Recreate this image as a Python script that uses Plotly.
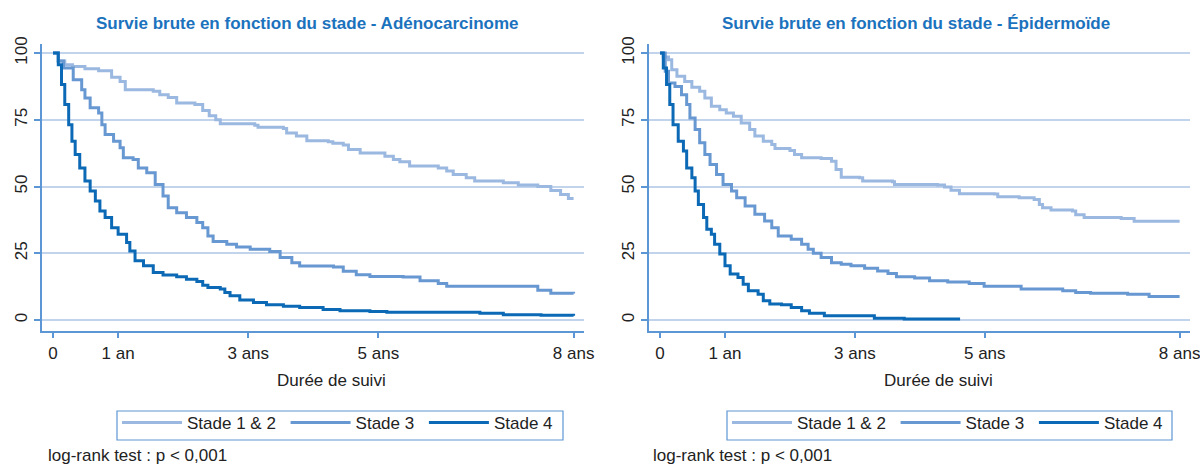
import plotly.graph_objects as go

# ---------------- Data ----------------
adeno_s12_t = [0, 0.08, 0.18, 0.30, 0.49, 0.70, 0.90, 1.03, 1.11, 1.54, 1.64, 1.77, 1.90, 2.18, 2.30, 2.40, 2.50, 2.57,
               3.10, 3.15, 3.54, 3.59, 3.74, 3.90, 4.23, 4.30, 4.46, 4.54, 4.72, 5.10, 5.23, 5.33, 5.48, 5.92, 6.05,
               6.15, 6.35, 6.48, 6.92, 7.15, 7.45, 7.65, 7.80, 7.92, 8.0]
adeno_s12_s = [100, 97.0, 95.6, 95.0, 94.1, 93.4, 91.0, 89.4, 86.3, 85.7, 84.4, 83.4, 81.3, 80.7, 78.5, 76.5, 75.0, 73.5,
               73.0, 72.2, 71.8, 70.1, 68.9, 67.2, 66.8, 66.2, 65.6, 63.9, 62.6, 61.4, 60.1, 59.3, 57.7, 57.0, 55.8,
               54.5, 53.3, 52.1, 51.4, 50.6, 50.0, 48.5, 47.0, 45.5, 45.5]

adeno_s3_t = [0, 0.08, 0.16, 0.31, 0.44, 0.49, 0.57, 0.70, 0.75, 0.80, 0.93, 1.03, 1.08, 1.23, 1.31, 1.44, 1.57, 1.69,
              1.77, 1.90, 2.05, 2.21, 2.30, 2.38, 2.46, 2.67, 2.82, 3.03, 3.33, 3.49, 3.67, 3.79, 4.31, 4.46, 4.66,
              4.87, 5.38, 5.64, 5.92, 6.05, 7.45, 7.65, 8.0]
adeno_s3_s = [100, 97.0, 94.4, 90.0, 86.3, 83.2, 79.5, 77.6, 73.2, 69.5, 67.0, 64.5, 60.8, 60.1, 57.0, 55.2, 50.8, 46.5,
              42.1, 40.2, 38.4, 36.5, 34.6, 31.5, 29.4, 28.4, 27.4, 26.5, 25.7, 23.4, 21.5, 20.2, 19.9, 18.3, 17.0,
              16.3, 16.1, 14.7, 13.7, 12.7, 11.2, 10.0, 9.9]

adeno_s4_t = [0, 0.08, 0.13, 0.18, 0.24, 0.29, 0.34, 0.41, 0.49, 0.57, 0.65, 0.72, 0.80, 0.90, 1.00, 1.13, 1.18, 1.26,
              1.39, 1.54, 1.69, 1.90, 2.05, 2.21, 2.30, 2.38, 2.57, 2.64, 2.72, 2.87, 3.08, 3.28, 3.54, 3.79, 4.15,
              4.41, 4.87, 5.13, 6.56, 6.92, 7.50, 8.0]
adeno_s4_s = [100, 95.6, 88.2, 80.7, 73.2, 67.0, 62.0, 57.0, 52.1, 48.3, 44.6, 40.8, 38.4, 34.6, 32.1, 29.0, 25.9, 22.2,
              20.3, 17.8, 16.9, 16.2, 15.3, 14.4, 13.0, 12.2, 11.6, 10.3, 9.1, 7.5, 6.6, 5.7, 5.2, 4.7, 3.9,
              3.5, 3.2, 2.9, 2.5, 2.0, 1.8, 1.6]

epid_s12_t = [0, 0.05, 0.13, 0.18, 0.26, 0.38, 0.49, 0.61, 0.69, 0.79, 0.92, 1.02, 1.13, 1.25, 1.38, 1.46, 1.59, 1.72,
              1.77, 2.00, 2.07, 2.18, 2.48, 2.64, 2.71, 2.79, 3.07, 3.12, 3.58, 3.61, 4.27, 4.38, 4.48, 4.61, 5.15,
              5.20, 5.53, 5.76, 5.84, 5.89, 6.02, 6.35, 6.40, 6.53, 7.10, 7.30, 8.0]
epid_s12_s = [100, 98.5, 97.5, 93.8, 91.3, 89.4, 87.2, 85.7, 83.2, 80.1, 78.8, 77.6, 76.3, 73.8, 71.4, 68.9, 67.0, 65.8,
              64.3, 63.5, 62.0, 60.8, 60.5, 59.5, 56.4, 53.5, 53.3, 52.1, 51.8, 50.8, 50.6, 49.8, 48.6, 47.3, 47.2,
              46.2, 45.8, 45.2, 43.3, 42.1, 41.2, 40.8, 39.4, 38.4, 38.0, 37.0, 37.0]

epid_s3_t = [0, 0.08, 0.13, 0.23, 0.33, 0.41, 0.46, 0.54, 0.61, 0.69, 0.77, 0.87, 0.97, 1.10, 1.18, 1.31, 1.46, 1.61,
             1.72, 1.82, 2.02, 2.18, 2.28, 2.36, 2.48, 2.64, 2.79, 2.94, 3.15, 3.35, 3.51, 3.64, 3.92, 4.15, 4.43,
             4.76, 4.99, 5.56, 6.20, 6.40, 6.63, 7.20, 7.53, 8.0]
epid_s3_s = [100, 93.2, 88.8, 87.5, 84.4, 80.7, 75.7, 71.4, 66.4, 62.0, 58.3, 54.5, 50.8, 48.3, 45.8, 42.7, 39.6, 37.1,
             34.6, 31.5, 30.3, 28.4, 26.5, 25.0, 23.4, 21.5, 20.9, 20.3, 19.4, 18.4, 17.4, 16.2, 15.7, 14.7, 14.2,
             13.7, 12.7, 11.6, 11.0, 10.3, 10.0, 9.7, 8.8, 8.8]

epid_s4_t = [0, 0.05, 0.10, 0.15, 0.20, 0.28, 0.36, 0.41, 0.49, 0.54, 0.59, 0.67, 0.72, 0.79, 0.84, 0.92, 1.00, 1.08,
             1.20, 1.28, 1.36, 1.51, 1.59, 1.69, 1.87, 2.02, 2.18, 2.30, 2.53, 3.30, 3.76, 4.62]
epid_s4_s = [100, 94.4, 88.2, 80.7, 73.2, 67.0, 63.3, 57.0, 53.3, 48.3, 43.3, 38.4, 34.0, 32.1, 28.4, 24.7, 20.3, 17.2,
             15.9, 13.4, 11.0, 9.7, 7.2, 6.0, 5.7, 4.7, 3.5, 2.5, 1.6, 0.7, 0.4, 0.4]

series_names = ["Stade 1 & 2", "Stade 3", "Stade 4"]
x_tickvals = [0, 1, 3, 5, 8]
x_ticktext = ["0", "1 an", "3 ans", "5 ans", "8 ans"]
y_tickvals = [0, 25, 50, 75, 100]
titles = ["Survie brute en fonction du stade - Adénocarcinome",
          "Survie brute en fonction du stade - Épidermoïde"]
x_title = "Durée de suivi"
note = "log-rank test : p < 0,001"

# ---------------- Style ----------------
W, H = 1200, 464
colors = ["#9ab8e0", "#6898d1", "#0b69b6"]
grid_c = "#c2d4ec"
axis_c = "#5d96d4"
title_c = "#1b72bd"
text_c = "#222222"
FONT = "Liberation Sans, Arial, sans-serif"

def px(x):
    return x / W

def py(y):
    return 1 - y / H

fig = go.Figure()

panels = [
    ([adeno_s12_t, adeno_s3_t, adeno_s4_t], [adeno_s12_s, adeno_s3_s, adeno_s4_s], "x", "y", "legend"),
    ([epid_s12_t, epid_s3_t, epid_s4_t], [epid_s12_s, epid_s3_s, epid_s4_s], "x2", "y2", "legend2"),
]
for ts, ss, xa, ya, lg in panels:
    for i in range(3):
        fig.add_trace(go.Scatter(
            x=ts[i], y=ss[i], mode="lines", name=series_names[i] + "\u00a0",
            line=dict(color=colors[i], width=3, shape="hv"),
            xaxis=xa, yaxis=ya, legend=lg, hoverinfo="skip",
        ))

y_dom = [py(330.7), py(44.3)]
x_doms = [[px(42), px(584)], [px(649), px(1190)]]

common_x = dict(range=[-0.17, 8.16], tickvals=x_tickvals, ticktext=x_ticktext,
                showgrid=False, zeroline=False, showline=True, linecolor=axis_c, linewidth=1.5,
                ticks="outside", ticklen=6, tickcolor=axis_c, tickwidth=1.5, automargin=False,
                ticklabeloverflow="allow",
                tickfont=dict(size=17, color=text_c, family=FONT))
common_y = dict(range=[-4.0, 103.3], tickvals=y_tickvals,
                showgrid=True, gridcolor=grid_c, gridwidth=1.5, zeroline=False,
                showline=True, linecolor=axis_c, linewidth=1.5, automargin=False,
                ticklabeloverflow="allow",
                ticks="outside", ticklen=6, tickcolor=axis_c, tickwidth=1.5, tickangle=-90,
                tickfont=dict(size=17, color=text_c, family=FONT), domain=y_dom)

legend_common = dict(orientation="h", xanchor="left", yanchor="top",
                     borderwidth=0, bgcolor="rgba(0,0,0,0)",
                     font=dict(size=17, color=text_c, family=FONT), itemwidth=60)

fig.update_layout(
    width=W, height=H, autosize=False,
    margin=dict(l=0, r=0, t=0, b=0, pad=0, autoexpand=False),
    paper_bgcolor="white", plot_bgcolor="white",
    font=dict(family=FONT, color=text_c),
    xaxis=dict(common_x, domain=x_doms[0], anchor="y"),
    yaxis=dict(common_y, anchor="x"),
    xaxis2=dict(common_x, domain=x_doms[1], anchor="y2"),
    yaxis2=dict(common_y, anchor="x2"),
    legend=dict(legend_common, x=px(117), y=py(405)),
    legend2=dict(legend_common, x=px(727), y=py(405)),
    showlegend=True,
)

# legend frames
shapes = []
for x0, x1 in [(117, 563), (727, 1172)]:
    shapes.append(dict(type="rect", xref="paper", yref="paper",
                       x0=px(x0), x1=px(x1), y0=py(440), y1=py(411),
                       line=dict(color=axis_c, width=1.2), fillcolor="rgba(0,0,0,0)", layer="below"))
fig.update_layout(shapes=shapes)

ann = []
for cx, t in [(307.5, titles[0]), (915.5, titles[1])]:
    ann.append(dict(text="<b>%s</b>" % t, x=px(cx), y=py(24), xref="paper", yref="paper",
                    xanchor="center", yanchor="middle", showarrow=False,
                    font=dict(size=17, color=title_c, family=FONT)))
for cx in [331.5, 938.5]:
    ann.append(dict(text=x_title, x=px(cx), y=py(380), xref="paper", yref="paper",
                    xanchor="center", yanchor="middle", showarrow=False,
                    font=dict(size=17, color=text_c, family=FONT)))
for lx in [46, 651]:
    ann.append(dict(text=note, x=px(lx), y=py(455), xref="paper", yref="paper",
                    xanchor="left", yanchor="middle", showarrow=False,
                    font=dict(size=17, color=text_c, family=FONT)))
fig.update_layout(annotations=ann)

fig.write_html("out.html", config={"displayModeBar": False},
               post_script="document.body.style.margin='0px';document.body.style.overflow='hidden';")
